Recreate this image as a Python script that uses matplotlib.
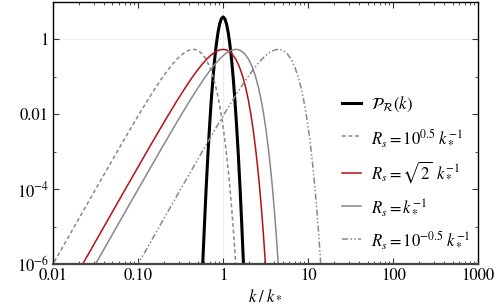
import matplotlib
matplotlib.use('agg')
import matplotlib.pyplot as plt
from matplotlib.ticker import FixedLocator, NullFormatter

plt.rcParams['font.family'] = ['STIXGeneral', 'DejaVu Serif']
plt.rcParams['mathtext.fontset'] = 'stix'

# curvature power spectrum (lognormal peak at k*)
k_peak = [0.562, 0.575, 0.603, 0.631, 0.661, 0.692, 0.724, 0.759, 0.794, 0.832, 0.871, 0.912, 0.955,
          1.0, 1.047, 1.096, 1.148, 1.202, 1.259, 1.318, 1.380, 1.445, 1.514, 1.585, 1.660, 1.738, 1.778]
p_peak = [2.6e-7, 9.35e-7, 1.07e-5, 9.93e-5, 7.45e-4, 4.51e-3, 0.0221, 0.0879, 0.282, 0.731, 1.54, 2.61, 3.59,
          3.99, 3.59, 2.61, 1.54, 0.731, 0.282, 0.0879, 0.0221, 4.51e-3, 7.45e-4, 9.93e-5, 1.07e-5, 9.35e-7, 2.6e-7]

# window curves, same values read at each curve's points
w_vals = [8.1e-7, 9.90e-5, 1.537e-3, 7.40e-3, 0.02181, 0.04868, 0.09042, 0.1471, 0.2160, 0.2919,
          0.3679, 0.4366, 0.4913, 0.5270, 0.5412, 0.5336, 0.5066, 0.4111, 0.2930, 0.1852, 0.1045,
          0.05297, 0.02420, 9.998e-3, 3.745e-3, 1.275e-3, 3.951e-4, 1.118e-4, 2.88e-5, 6.78e-6,
          1.46e-6, 2.89e-7]
k_big = [0.00949, 0.0316, 0.0632, 0.0949, 0.1265, 0.1581, 0.1897, 0.2214, 0.2530, 0.2846,
         0.3162, 0.3479, 0.3795, 0.4111, 0.4427, 0.4743, 0.5060, 0.5692, 0.6325, 0.6957, 0.7589,
         0.8222, 0.8854, 0.9487, 1.0119, 1.0752, 1.1384, 1.2017, 1.2649, 1.3282, 1.3914, 1.4546]
k_sqrt2 = [0.0212, 0.0707, 0.1414, 0.2121, 0.2828, 0.3536, 0.4243, 0.4950, 0.5657, 0.6364,
           0.7071, 0.7778, 0.8485, 0.9192, 0.9899, 1.0607, 1.1314, 1.2728, 1.4142, 1.5556, 1.6971,
           1.8385, 1.9799, 2.1213, 2.2627, 2.4042, 2.5456, 2.6870, 2.8284, 2.9698, 3.1113, 3.2527]
k_one = [0.03, 0.1, 0.2, 0.3, 0.4, 0.5, 0.6, 0.7, 0.8, 0.9,
         1.0, 1.1, 1.2, 1.3, 1.4, 1.5, 1.6, 1.8, 2.0, 2.2, 2.4,
         2.6, 2.8, 3.0, 3.2, 3.4, 3.6, 3.8, 4.0, 4.2, 4.4, 4.6]
k_small = [0.0949, 0.3162, 0.6325, 0.9487, 1.2649, 1.5811, 1.8974, 2.2136, 2.5298, 2.8460,
           3.1623, 3.4785, 3.7947, 4.1110, 4.4272, 4.7434, 5.0596, 5.6921, 6.3246, 6.9570, 7.5895,
           8.2219, 8.8544, 9.4868, 10.119, 10.752, 11.384, 12.017, 12.649, 13.282, 13.914, 14.546]

x_ticks = [0.01, 0.1, 1, 10, 100, 1000]
x_labels = ['0.01', '0.10', '1', '10', '100', '1000']
y_ticks = [1e-6, 1e-4, 1e-2, 1]
y_labels = [r'$10^{-6}$', r'$10^{-4}$', '0.01', '1']

fig = plt.figure(figsize=(4.96, 3.08), dpi=100)
ax = fig.add_axes([0.107, 0.143, 0.857, 0.8505])

#light guide lines at k = k* and 1
ax.axhline(1, color='#eeeeee', lw=0.8, zorder=0)
ax.axvline(1, color='#eeeeee', lw=0.8, zorder=0)

ax.plot(k_peak, p_peak, color='black', lw=2.2, label=r'$\mathcal{P}_{\mathcal{R}}(k)$')
ax.plot(k_big, w_vals, color='#888888', lw=1.1, ls=(0, (2.5, 1.8)),
        label=r'$R_s = 10^{0.5}\; k_*^{-1}$')
ax.plot(k_sqrt2, w_vals, color='#b40f17', lw=1.1, label=r'$R_s = \sqrt{2}\;\, k_*^{-1}$')
ax.plot(k_one, w_vals, color='#888888', lw=1.1, label=r'$R_s = k_*^{-1}$')
ax.plot(k_small, w_vals, color='#888888', lw=1.1, ls=(0, (4, 1.5, 1, 1.5, 1, 1.5)),
        label=r'$R_s = 10^{-0.5}\; k_*^{-1}$')

ax.set_xscale('log')
ax.set_yscale('log')
ax.set_xlim(0.01, 1000)
ax.set_ylim(1e-6, 10)

ax.xaxis.set_major_locator(FixedLocator(x_ticks))
ax.set_xticklabels(x_labels)
ax.yaxis.set_major_locator(FixedLocator(y_ticks))
ax.set_yticklabels(y_labels)
ax.yaxis.set_minor_locator(FixedLocator([1e-5, 1e-3, 0.1, 10]))
ax.yaxis.set_minor_formatter(NullFormatter())
ax.xaxis.set_minor_formatter(NullFormatter())

ax.tick_params(which='both', direction='in', top=True, right=True, labelsize=12, color='#333333')
ax.tick_params(which='major', length=4, width=0.8)
ax.tick_params(which='minor', length=2, width=0.6)
ax.tick_params(axis='x', pad=3)
ax.tick_params(axis='y', pad=3)

for s in ax.spines.values():
    s.set_linewidth(1.0)
ax.spines['bottom'].set_linewidth(1.6)
ax.spines['bottom'].set_color('#444444')

ax.set_xlabel(r'$k\;/\;k_*$', fontsize=12, labelpad=3)

ax.legend(loc='center left', bbox_to_anchor=(0.645, 0.35), frameon=False, fontsize=12,
          handlelength=1.15, handletextpad=0.55, labelspacing=0.75)

plt.savefig('out.png', dpi=100)
